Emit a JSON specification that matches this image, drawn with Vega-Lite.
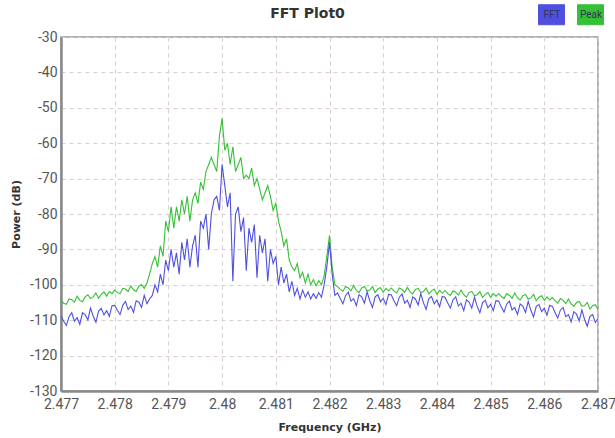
{
  "$schema": "https://vega.github.io/schema/vega-lite/v6.json",
  "width": 537,
  "height": 354,
  "autosize": {"type": "none"},
  "padding": {"left": 61, "top": 37, "right": 17, "bottom": 47},
  "background": "white",
  "title": {"text": "FFT Plot0", "font": "DejaVu Sans", "fontSize": 14, "fontWeight": "bold", "color": "#333333", "offset": 0, "dy": 17, "dx": -22},
  "config": {
    "view": {"stroke": "#9a9a9a", "strokeWidth": 1.5},
    "axis": {
      "labelFont": "Liberation Sans Narrow, Roboto, sans-serif",
      "labelFontSize": 14,
      "labelColor": "#555555",
      "labelOverlap": false,
      "labelFlush": false,
      "titleFont": "DejaVu Sans",
      "titleFontSize": 11,
      "titleFontWeight": "bold",
      "titleColor": "#333333",
      "ticks": false,
      "domainColor": "#8a8a8a",
      "domainWidth": 2.5,
      "gridColor": "#d9cfcf",
      "gridDash": [4, 4],
      "gridWidth": 1
    }
  },
  "data": {"values": [
    {"f":2.47700,"fft":-108.8,"peak":-104.5},
    {"f":2.47705,"fft":-110.3,"peak":-105.2},
    {"f":2.47710,"fft":-111.5,"peak":-105.5},
    {"f":2.47715,"fft":-109.0,"peak":-104.0},
    {"f":2.47720,"fft":-107.9,"peak":-104.2},
    {"f":2.47725,"fft":-110.3,"peak":-104.9},
    {"f":2.47730,"fft":-109.3,"peak":-103.2},
    {"f":2.47735,"fft":-111.2,"peak":-104.4},
    {"f":2.47740,"fft":-107.9,"peak":-104.8},
    {"f":2.47745,"fft":-108.4,"peak":-103.4},
    {"f":2.47750,"fft":-109.9,"peak":-102.8},
    {"f":2.47755,"fft":-106.6,"peak":-103.9},
    {"f":2.47760,"fft":-108.9,"peak":-103.4},
    {"f":2.47765,"fft":-110.6,"peak":-102.3},
    {"f":2.47770,"fft":-107.4,"peak":-103.8},
    {"f":2.47775,"fft":-106.7,"peak":-102.7},
    {"f":2.47780,"fft":-108.5,"peak":-102.0},
    {"f":2.47785,"fft":-107.3,"peak":-103.2},
    {"f":2.47790,"fft":-108.9,"peak":-101.9},
    {"f":2.47795,"fft":-105.9,"peak":-102.5},
    {"f":2.47800,"fft":-105.8,"peak":-101.5},
    {"f":2.47805,"fft":-107.2,"peak":-102.2},
    {"f":2.47810,"fft":-108.4,"peak":-102.5},
    {"f":2.47815,"fft":-105.8,"peak":-101.0},
    {"f":2.47820,"fft":-104.7,"peak":-101.2},
    {"f":2.47825,"fft":-107.0,"peak":-101.9},
    {"f":2.47830,"fft":-106.0,"peak":-100.3},
    {"f":2.47835,"fft":-107.8,"peak":-101.4},
    {"f":2.47840,"fft":-104.5,"peak":-101.9},
    {"f":2.47845,"fft":-104.9,"peak":-100.4},
    {"f":2.47850,"fft":-106.4,"peak":-99.9},
    {"f":2.47855,"fft":-103.0,"peak":-101.0},
    {"f":2.47860,"fft":-105.3,"peak":-99.5},
    {"f":2.47865,"fft":-104.0,"peak":-97.0},
    {"f":2.47870,"fft":-103.0,"peak":-94.0},
    {"f":2.47875,"fft":-100.0,"peak":-92.0},
    {"f":2.47880,"fft":-102.0,"peak":-95.0},
    {"f":2.47885,"fft":-97.0,"peak":-89.0},
    {"f":2.47890,"fft":-100.0,"peak":-92.0},
    {"f":2.47895,"fft":-93.0,"peak":-82.0},
    {"f":2.47900,"fft":-96.0,"peak":-85.0},
    {"f":2.47905,"fft":-90.0,"peak":-78.0},
    {"f":2.47910,"fft":-95.0,"peak":-84.0},
    {"f":2.47915,"fft":-91.0,"peak":-78.0},
    {"f":2.47920,"fft":-97.0,"peak":-82.0},
    {"f":2.47925,"fft":-88.0,"peak":-76.0},
    {"f":2.47930,"fft":-93.0,"peak":-80.0},
    {"f":2.47935,"fft":-87.0,"peak":-75.0},
    {"f":2.47940,"fft":-95.0,"peak":-82.0},
    {"f":2.47945,"fft":-89.0,"peak":-76.0},
    {"f":2.47950,"fft":-86.0,"peak":-74.0},
    {"f":2.47955,"fft":-95.0,"peak":-77.0},
    {"f":2.47960,"fft":-82.0,"peak":-71.0},
    {"f":2.47965,"fft":-84.0,"peak":-73.0},
    {"f":2.47970,"fft":-80.0,"peak":-68.0},
    {"f":2.47975,"fft":-90.0,"peak":-66.0},
    {"f":2.47980,"fft":-80.0,"peak":-64.0},
    {"f":2.47985,"fft":-76.0,"peak":-66.0},
    {"f":2.47990,"fft":-75.0,"peak":-68.0},
    {"f":2.47995,"fft":-79.0,"peak":-58.0},
    {"f":2.48000,"fft":-66.0,"peak":-53.0},
    {"f":2.48005,"fft":-72.0,"peak":-62.0},
    {"f":2.48010,"fft":-78.0,"peak":-60.0},
    {"f":2.48015,"fft":-74.0,"peak":-66.0},
    {"f":2.48020,"fft":-99.0,"peak":-61.0},
    {"f":2.48025,"fft":-80.0,"peak":-68.0},
    {"f":2.48030,"fft":-78.0,"peak":-66.0},
    {"f":2.48035,"fft":-85.0,"peak":-64.0},
    {"f":2.48040,"fft":-81.0,"peak":-70.0},
    {"f":2.48045,"fft":-96.0,"peak":-69.0},
    {"f":2.48050,"fft":-84.0,"peak":-70.0},
    {"f":2.48055,"fft":-88.0,"peak":-67.0},
    {"f":2.48060,"fft":-83.0,"peak":-72.0},
    {"f":2.48065,"fft":-98.0,"peak":-70.0},
    {"f":2.48070,"fft":-86.0,"peak":-73.0},
    {"f":2.48075,"fft":-91.0,"peak":-76.0},
    {"f":2.48080,"fft":-87.0,"peak":-74.0},
    {"f":2.48085,"fft":-99.0,"peak":-72.0},
    {"f":2.48090,"fft":-90.0,"peak":-75.0},
    {"f":2.48095,"fft":-94.0,"peak":-79.0},
    {"f":2.48100,"fft":-92.0,"peak":-77.0},
    {"f":2.48105,"fft":-100.0,"peak":-82.0},
    {"f":2.48110,"fft":-95.0,"peak":-85.0},
    {"f":2.48115,"fft":-99.5,"peak":-89.0},
    {"f":2.48120,"fft":-97.0,"peak":-87.0},
    {"f":2.48125,"fft":-102.0,"peak":-93.0},
    {"f":2.48130,"fft":-99.0,"peak":-95.0},
    {"f":2.48135,"fft":-103.0,"peak":-96.0},
    {"f":2.48140,"fft":-101.0,"peak":-94.0},
    {"f":2.48145,"fft":-104.0,"peak":-98.0},
    {"f":2.48150,"fft":-101.5,"peak":-96.5},
    {"f":2.48155,"fft":-103.5,"peak":-99.5},
    {"f":2.48160,"fft":-102.0,"peak":-97.0},
    {"f":2.48165,"fft":-104.0,"peak":-100.0},
    {"f":2.48170,"fft":-102.5,"peak":-98.5},
    {"f":2.48175,"fft":-103.8,"peak":-100.3},
    {"f":2.48180,"fft":-102.2,"peak":-98.8},
    {"f":2.48185,"fft":-103.5,"peak":-100.0},
    {"f":2.48190,"fft":-100.0,"peak":-97.5},
    {"f":2.48195,"fft":-95.0,"peak":-92.0},
    {"f":2.48200,"fft":-88.0,"peak":-86.0},
    {"f":2.48205,"fft":-97.0,"peak":-95.0},
    {"f":2.48210,"fft":-103.0,"peak":-100.0},
    {"f":2.48215,"fft":-102.3,"peak":-100.5},
    {"f":2.48220,"fft":-103.9,"peak":-101.3},
    {"f":2.48225,"fft":-105.4,"peak":-101.8},
    {"f":2.48230,"fft":-103.0,"peak":-100.5},
    {"f":2.48235,"fft":-102.1,"peak":-100.9},
    {"f":2.48240,"fft":-104.6,"peak":-101.7},
    {"f":2.48245,"fft":-103.9,"peak":-100.2},
    {"f":2.48250,"fft":-105.9,"peak":-101.6},
    {"f":2.48255,"fft":-102.8,"peak":-102.2},
    {"f":2.48260,"fft":-103.4,"peak":-100.9},
    {"f":2.48265,"fft":-105.2,"peak":-100.5},
    {"f":2.48270,"fft":-102.0,"peak":-101.7},
    {"f":2.48275,"fft":-104.5,"peak":-101.5},
    {"f":2.48280,"fft":-106.4,"peak":-100.5},
    {"f":2.48285,"fft":-103.4,"peak":-102.2},
    {"f":2.48290,"fft":-102.8,"peak":-101.2},
    {"f":2.48295,"fft":-104.8,"peak":-100.8},
    {"f":2.48300,"fft":-103.8,"peak":-102.1},
    {"f":2.48305,"fft":-105.6,"peak":-101.0},
    {"f":2.48310,"fft":-102.7,"peak":-101.7},
    {"f":2.48315,"fft":-102.8,"peak":-100.9},
    {"f":2.48320,"fft":-104.5,"peak":-101.8},
    {"f":2.48325,"fft":-105.9,"peak":-102.3},
    {"f":2.48330,"fft":-103.5,"peak":-100.9},
    {"f":2.48335,"fft":-102.6,"peak":-101.3},
    {"f":2.48340,"fft":-105.2,"peak":-102.1},
    {"f":2.48345,"fft":-104.4,"peak":-100.7},
    {"f":2.48350,"fft":-106.4,"peak":-102.0},
    {"f":2.48355,"fft":-103.4,"peak":-102.6},
    {"f":2.48360,"fft":-104.0,"peak":-101.3},
    {"f":2.48365,"fft":-105.7,"peak":-101.0},
    {"f":2.48370,"fft":-102.5,"peak":-102.2},
    {"f":2.48375,"fft":-105.1,"peak":-101.9},
    {"f":2.48380,"fft":-106.9,"peak":-100.9},
    {"f":2.48385,"fft":-103.9,"peak":-102.6},
    {"f":2.48390,"fft":-103.3,"peak":-101.7},
    {"f":2.48395,"fft":-105.4,"peak":-101.2},
    {"f":2.48400,"fft":-104.3,"peak":-102.7},
    {"f":2.48405,"fft":-106.2,"peak":-101.6},
    {"f":2.48410,"fft":-103.3,"peak":-102.4},
    {"f":2.48415,"fft":-103.5,"peak":-101.6},
    {"f":2.48420,"fft":-105.1,"peak":-102.5},
    {"f":2.48425,"fft":-106.6,"peak":-103.0},
    {"f":2.48430,"fft":-104.2,"peak":-101.7},
    {"f":2.48435,"fft":-103.4,"peak":-102.1},
    {"f":2.48440,"fft":-106.0,"peak":-102.9},
    {"f":2.48445,"fft":-105.2,"peak":-101.5},
    {"f":2.48450,"fft":-107.3,"peak":-102.8},
    {"f":2.48455,"fft":-104.2,"peak":-103.5},
    {"f":2.48460,"fft":-104.9,"peak":-102.2},
    {"f":2.48465,"fft":-106.6,"peak":-101.9},
    {"f":2.48470,"fft":-103.5,"peak":-103.1},
    {"f":2.48475,"fft":-106.1,"peak":-102.8},
    {"f":2.48480,"fft":-107.9,"peak":-101.9},
    {"f":2.48485,"fft":-105.0,"peak":-103.6},
    {"f":2.48490,"fft":-104.4,"peak":-102.7},
    {"f":2.48495,"fft":-106.5,"peak":-102.2},
    {"f":2.48500,"fft":-105.5,"peak":-103.6},
    {"f":2.48505,"fft":-107.3,"peak":-102.5},
    {"f":2.48510,"fft":-104.5,"peak":-103.2},
    {"f":2.48515,"fft":-104.6,"peak":-102.5},
    {"f":2.48520,"fft":-106.3,"peak":-103.3},
    {"f":2.48525,"fft":-107.7,"peak":-103.9},
    {"f":2.48530,"fft":-105.4,"peak":-102.5},
    {"f":2.48535,"fft":-104.6,"peak":-103.0},
    {"f":2.48540,"fft":-107.1,"peak":-103.8},
    {"f":2.48545,"fft":-106.4,"peak":-102.3},
    {"f":2.48550,"fft":-108.4,"peak":-103.7},
    {"f":2.48555,"fft":-105.4,"peak":-104.3},
    {"f":2.48560,"fft":-106.0,"peak":-103.1},
    {"f":2.48565,"fft":-107.8,"peak":-102.7},
    {"f":2.48570,"fft":-104.7,"peak":-104.0},
    {"f":2.48575,"fft":-107.2,"peak":-103.7},
    {"f":2.48580,"fft":-109.1,"peak":-102.7},
    {"f":2.48585,"fft":-106.1,"peak":-104.5},
    {"f":2.48590,"fft":-105.6,"peak":-103.5},
    {"f":2.48595,"fft":-107.6,"peak":-103.1},
    {"f":2.48600,"fft":-106.6,"peak":-104.4},
    {"f":2.48605,"fft":-108.6,"peak":-103.4},
    {"f":2.48610,"fft":-105.8,"peak":-104.3},
    {"f":2.48615,"fft":-106.1,"peak":-103.6},
    {"f":2.48620,"fft":-107.8,"peak":-104.5},
    {"f":2.48625,"fft":-109.4,"peak":-105.2},
    {"f":2.48630,"fft":-107.1,"peak":-103.9},
    {"f":2.48635,"fft":-106.4,"peak":-104.4},
    {"f":2.48640,"fft":-109.0,"peak":-105.3},
    {"f":2.48645,"fft":-108.4,"peak":-104.0},
    {"f":2.48650,"fft":-110.5,"peak":-105.4},
    {"f":2.48655,"fft":-107.6,"peak":-106.1},
    {"f":2.48660,"fft":-108.3,"peak":-105.0},
    {"f":2.48665,"fft":-110.2,"peak":-104.7},
    {"f":2.48670,"fft":-107.1,"peak":-106.0},
    {"f":2.48675,"fft":-109.8,"peak":-105.9},
    {"f":2.48680,"fft":-111.7,"peak":-105.0},
    {"f":2.48685,"fft":-108.9,"peak":-106.8},
    {"f":2.48690,"fft":-108.4,"peak":-105.9},
    {"f":2.48695,"fft":-110.6,"peak":-105.6},
    {"f":2.48700,"fft":-109.6,"peak":-107.0}
  ]},
  "encoding": {
    "x": {
      "field": "f", "type": "quantitative",
      "scale": {"domain": [2.477, 2.487], "nice": false, "zero": false},
      "axis": {"title": "Frequency (GHz)", "values": [2.477, 2.478, 2.479, 2.48, 2.481, 2.482, 2.483, 2.484, 2.485, 2.486, 2.487], "format": "~g", "labelPadding": 6, "titlePadding": 10}
    }
  },
  "layer": [
    {
      "mark": {"type": "line", "strokeWidth": 1.1, "clip": true},
      "encoding": {
        "y": {
          "field": "peak", "type": "quantitative",
          "scale": {"domain": [-130, -30], "nice": false, "zero": false},
          "axis": {"title": "Power (dB)", "values": [-130, -120, -110, -100, -90, -80, -70, -60, -50, -40, -30], "labelExpr": "'-' + format(-datum.value, 'd')", "labelPadding": 4, "titlePadding": 8}
        },
        "color": {
          "datum": "Peak",
          "scale": {"domain": ["FFT", "Peak"], "range": ["#5050e0", "#35c035"]},
          "legend": {
            "title": null,
            "orient": "none",
            "legendX": 480,
            "legendY": -33,
            "direction": "horizontal",
            "symbolType": "M-1.3,-1H1.3V1H-1.3Z",
            "symbolSize": 400,
            "symbolStrokeWidth": 1,
            "labelAlign": "center",
            "labelOffset": -10,
            "labelFont": "Liberation Sans Narrow, Roboto, sans-serif",
            "labelFontSize": 10,
            "labelColor": "#333355",
            "columnPadding": 8,
            "encode": {
              "symbols": {"update": {"fill": {"scale": "color", "field": "value"}, "stroke": {"scale": "color", "field": "value"}, "opacity": {"value": 1}, "fillOpacity": {"value": 1}}}
            }
          }
        }
      }
    },
    {
      "mark": {"type": "line", "strokeWidth": 1.1, "clip": true},
      "encoding": {
        "y": {"field": "fft", "type": "quantitative", "axis": {"title": "Power (dB)", "values": [-130, -120, -110, -100, -90, -80, -70, -60, -50, -40, -30], "labelExpr": "'-' + format(-datum.value, 'd')", "labelPadding": 4, "titlePadding": 8}},
        "color": {"datum": "FFT"}
      }
    }
  ]
}
